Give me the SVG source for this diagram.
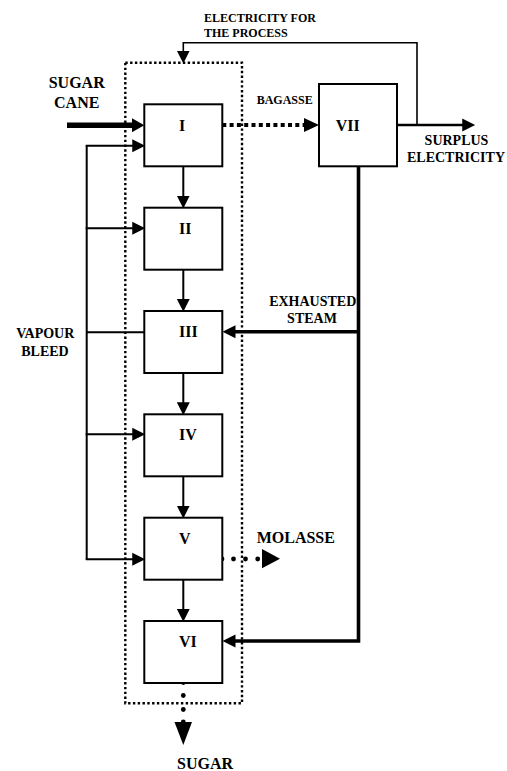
<svg xmlns="http://www.w3.org/2000/svg" width="507" height="771" viewBox="0 0 507 771">
<defs>
<style>
.box{fill:#fff;stroke:#000;stroke-width:2}
.lbl{font-family:"Liberation Serif",Tinos,"Times New Roman","DejaVu Serif",serif;font-weight:bold;fill:#000}
.t16{font-size:16px}
.t14{font-size:14px}
.t12{font-size:12px}
.ln{fill:none;stroke:#000}
.ah{fill:#000}
.dot{fill:#000}
</style>
<marker id="a12" markerUnits="userSpaceOnUse" markerWidth="14" markerHeight="14" refX="1" refY="6" orient="auto" viewBox="0 0 13 12">
<path d="M0,0 L12,6 L0,12 z" fill="#000"/>
</marker>
</defs>
<rect width="507" height="771" fill="#fff"/>

<g id="connectors">
<rect x="125.3" y="62.7" width="116.7" height="640.6" fill="none" stroke="#000" stroke-width="2.4" stroke-dasharray="2.4 2.4"/>
<path class="ln" stroke-width="1.6" d="M417,125 V42.7 H183.3 V51.7" marker-end="url(#a12)"/>
<path class="ln" stroke-width="2.6" d="M397,125 H463.3" marker-end="url(#a12)"/>
<path class="ln" stroke-width="4.2" stroke-dasharray="4 3.3" d="M222.3,125 H305"/>
<polygon class="ah" points="304,118 319,125 304,132"/>
<path class="ln" stroke-width="5.5" d="M67,125.3 H133"/>
<polygon class="ah" points="132,118.3 144.3,125.3 132,132.3"/>
<path class="ln" stroke-width="2" d="M183.3,166.3 V196.7" marker-end="url(#a12)"/>
<path class="ln" stroke-width="2" d="M183.3,269.7 V300" marker-end="url(#a12)"/>
<path class="ln" stroke-width="2" d="M183.3,373 V403.3" marker-end="url(#a12)"/>
<path class="ln" stroke-width="2" d="M183.3,476.3 V506.7" marker-end="url(#a12)"/>
<path class="ln" stroke-width="2" d="M183.3,579.7 V610" marker-end="url(#a12)"/>
<path class="ln" stroke-width="2" d="M86.7,145.7 V559.3"/>
<path class="ln" stroke-width="2" d="M85.7,145.7 H133.3" marker-end="url(#a12)"/>
<path class="ln" stroke-width="2" d="M85.7,228.3 H133.3" marker-end="url(#a12)"/>
<path class="ln" stroke-width="2" d="M86.7,332.3 H144.3"/>
<path class="ln" stroke-width="2" d="M85.7,434.3 H133.3" marker-end="url(#a12)"/>
<path class="ln" stroke-width="2" d="M85.7,559.3 H133.3" marker-end="url(#a12)"/>
<path class="ln" stroke-width="3.6" d="M358.5,166.3 V641 H235"/>
<polygon class="ah" points="235.5,634.5 222.5,641 235.5,647.5"/>
<path class="ln" stroke-width="3.6" d="M358.5,331.7 H235"/>
<polygon class="ah" points="235.5,325.2 222.5,331.7 235.5,338.2"/>
<circle class="dot" cx="222" cy="559" r="2.4"/>
<circle class="dot" cx="233.5" cy="559" r="2.4"/>
<circle class="dot" cx="245.5" cy="559" r="2.4"/>
<circle class="dot" cx="257.7" cy="559" r="2.4"/>
<polygon class="ah" points="262,549 280,558.7 262,568.3"/>
<circle class="dot" cx="183.3" cy="682.5" r="2.4"/>
<circle class="dot" cx="183.3" cy="695.5" r="2.4"/>
<circle class="dot" cx="183.3" cy="709.5" r="2.4"/>
<circle class="dot" cx="183.3" cy="722" r="2.4"/>
<polygon class="ah" points="174.5,722 192,722 183.3,745"/>
</g>

<g id="node-I">
<rect class="box" x="144.3" y="104.3" width="78" height="62"/>
<text class="lbl t16" x="179" y="130.5">I</text>
</g>
<g id="node-II">
<rect class="box" x="144.3" y="207.7" width="78" height="62"/>
<text class="lbl t16" x="179" y="233.7">II</text>
</g>
<g id="node-III">
<rect class="box" x="144.3" y="311" width="78" height="62"/>
<text class="lbl t16" x="179" y="337">III</text>
</g>
<g id="node-IV">
<rect class="box" x="144.3" y="414.3" width="78" height="62"/>
<text class="lbl t16" x="179" y="440.3">IV</text>
</g>
<g id="node-V">
<rect class="box" x="144.3" y="517.7" width="78" height="62"/>
<text class="lbl t16" x="179" y="543.7">V</text>
</g>
<g id="node-VI">
<rect class="box" x="144.3" y="621" width="78" height="62"/>
<text class="lbl t16" x="179" y="647">VI</text>
</g>
<g id="node-VII">
<rect class="box" x="319" y="84" width="78" height="82.3"/>
<text class="lbl t16" x="335.7" y="130.5">VII</text>
</g>

<g id="labels">
<text class="lbl t12" x="204" y="21.7">ELECTRICITY FOR</text>
<text class="lbl t12" x="204" y="36.7">THE PROCESS</text>
<text class="lbl t16" x="76.7" y="88" text-anchor="middle">SUGAR</text>
<text class="lbl t16" x="76.7" y="108" text-anchor="middle">CANE</text>
<text class="lbl t12" x="256.7" y="104">BAGASSE</text>
<text class="lbl t14" x="456.5" y="145" text-anchor="middle">SURPLUS</text>
<text class="lbl t14" x="456" y="162" text-anchor="middle">ELECTRICITY</text>
<text class="lbl t14" x="45.3" y="338.3" text-anchor="middle">VAPOUR</text>
<text class="lbl t14" x="45" y="355.7" text-anchor="middle">BLEED</text>
<text class="lbl t14" x="312.7" y="305.7" text-anchor="middle">EXHAUSTED</text>
<text class="lbl t14" x="312" y="323.3" text-anchor="middle">STEAM</text>
<text class="lbl t16" x="256.7" y="542.7">MOLASSE</text>
<text class="lbl t16" x="177" y="769">SUGAR</text>
</g>
</svg>
